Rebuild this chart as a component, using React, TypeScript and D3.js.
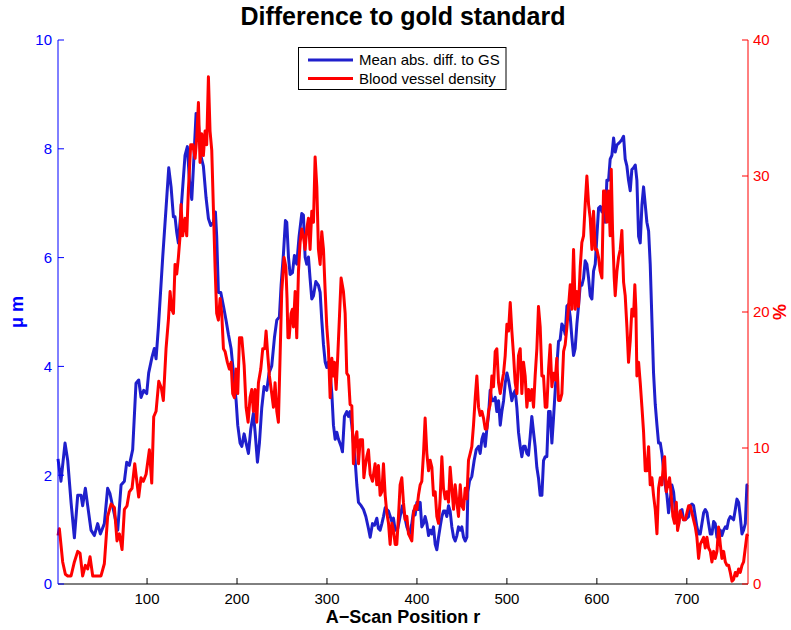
import React from "react";
import * as d3 from "d3";

// A-scan position / value pairs for the two traces
const meanAbsDiff: [number, number][] = [
  [1, 2.3], [4.3, 1.89], [8.8, 2.59], [11.8, 2.27], [15.5, 1.5], [19.2, 0.85], [22.9, 1.63], [26.6, 1.63],
  [28.4, 1.44], [31.4, 1.76], [34, 1.44], [37.7, 0.99], [41.4, 0.89], [45.1, 1.11], [48.1, 0.92], [52.5, 1.11],
  [56.2, 1.76], [58.8, 1.66], [62.5, 1.37], [67.4, 0.99], [71.1, 1.82], [74.8, 1.89], [77.4, 2.24], [80.3, 2.18],
  [84, 2.47], [87.7, 3.69], [90.7, 3.75], [93.3, 3.43], [96.3, 3.56], [99.6, 3.5], [101.8, 3.88], [105.5, 4.17],
  [108.1, 4.33], [110, 4.14], [112.6, 4.72], [117.4, 6.01], [121.1, 6.91], [124.1, 7.65], [126.7, 7.3], [129.3, 6.75],
  [131.1, 6.75], [133, 6.46], [134.8, 6.27], [138.5, 7.04], [142.2, 7.88], [144.8, 8.04], [147.1, 7.42], [149.7, 7.07],
  [152.2, 7.88], [154.5, 8.65], [157.1, 8.46], [159.7, 7.88], [162.6, 7.68], [165.6, 7.1], [168.2, 6.72], [170.8, 6.59],
  [173.7, 6.65], [176, 6.84], [177.4, 6.39], [179.3, 5.36], [181.9, 5.36], [184.9, 5.11], [187.8, 4.85], [190.4, 4.59],
  [193.4, 4.33], [196, 3.88], [199, 3.37], [200.8, 2.92], [203.4, 2.59], [205.3, 2.53], [207.9, 2.76], [210.1, 2.59],
  [212.7, 2.4], [215.3, 2.85], [218.2, 3.14], [220.1, 2.79], [222.7, 2.24], [224.9, 2.59], [227.5, 3.24], [230.1, 3.63],
  [233.1, 3.56], [235.6, 3.88], [238.6, 4.01], [241.6, 4.53], [244.2, 4.85], [247.1, 4.91], [249, 5.49], [251.6, 6.07],
  [253.8, 6.68], [255.3, 6.65], [257.2, 6.01], [259, 5.69], [261.6, 5.72], [263.8, 6.04], [266.4, 5.88], [269, 6.39],
  [272, 6.81], [273.8, 6.78], [275.7, 6.01], [277.5, 5.88], [279.4, 6.01], [281.2, 5.62], [283.1, 5.24], [285, 5.3],
  [287.6, 5.56], [290.5, 5.49], [292.4, 5.36], [294.2, 4.85], [296.1, 4.4], [298, 4.08], [299.8, 3.98], [301.6, 4.08],
  [303.5, 3.88], [305.4, 3.5], [307.2, 2.92], [309.1, 2.66], [310.9, 2.79], [312.8, 2.66], [315.7, 2.53], [317.2, 2.43],
  [319.4, 3.08], [322, 3.17], [323.9, 3.08], [325.7, 3.17], [327.6, 2.92], [329.4, 2.59], [331.3, 2.27], [333.2, 1.82],
  [335, 1.5], [338, 1.44], [340.6, 1.37], [343.2, 1.24], [346.1, 1.02], [348, 0.86], [350.6, 1.11], [352.8, 1.08],
  [355.4, 1.21], [357.2, 1.02], [359.1, 0.99], [361, 1.11], [362.8, 1.24], [364.7, 1.4], [368.4, 1.34], [372.1, 1.15],
  [373.9, 1.21], [375.8, 0.99], [378.7, 1.02], [381.3, 1.24], [383.9, 1.44], [386.9, 1.2], [388.8, 1.05], [391.7, 0.92],
  [394.3, 1.11], [396.2, 1.34], [398, 1.27], [399.9, 1.5], [401.7, 1.37], [403.6, 1.5], [405.4, 1.05], [407.3, 1.11],
  [409.1, 1.24], [411, 1.11], [412.9, 0.89], [414.7, 0.99], [416.6, 0.92], [418.4, 1.05], [420.3, 0.73], [422.1, 0.63],
  [424, 0.86], [425.8, 1.05], [427.7, 1.24], [429.5, 1.34], [431.4, 1.34], [433.2, 1.24], [435.1, 1.44], [436.9, 1.34],
  [438.8, 1.05], [440.7, 0.86], [442.5, 0.79], [444.4, 0.89], [446.2, 1.05], [448.1, 0.99], [449.9, 1.05], [451.8, 0.86],
  [453.6, 0.79], [455.5, 0.86], [456.6, 1.69], [458.4, 1.89], [461, 1.98], [463.6, 2.27], [465.9, 2.47], [468.5, 2.53],
  [470.3, 2.4], [472.2, 2.66], [474, 2.76], [475.9, 2.53], [477.7, 2.85], [479.6, 3.11], [481.4, 3.56], [483.3, 3.37],
  [485.1, 3.37], [487, 3.43], [488.8, 3.17], [490.7, 3.37], [492.6, 2.92], [494.4, 3.17], [496.3, 3.37], [498.1, 3.69],
  [500, 3.88], [501.8, 3.75], [503.7, 3.56], [505.5, 3.37], [507.4, 3.5], [509.2, 3.56], [511.1, 3.24], [512.9, 2.79],
  [514.8, 2.53], [516.6, 2.34], [518.5, 2.53], [520.3, 2.53], [522.2, 2.4], [524, 2.37], [525.9, 2.72], [527.7, 3.08],
  [529.6, 2.79], [531.4, 2.53], [533.3, 2.14], [535.1, 1.95], [537, 1.63], [538.9, 1.63], [540.7, 2.27], [542.6, 2.34],
  [544.4, 2.34], [546.3, 3.17], [548.1, 3.17], [550, 2.59], [551.8, 3.05], [553.7, 3.56], [555.5, 4.01], [557.4, 4.46],
  [559.2, 4.49], [561.1, 4.78], [563, 4.72], [564.8, 4.59], [566.7, 5.11], [568.5, 5.14], [570.4, 4.91], [572.2, 4.53],
  [574.1, 4.2], [575.9, 4.33], [577.8, 4.78], [579.6, 5.11], [581.5, 5.49], [583.3, 5.49], [585.2, 5.62], [587, 5.94],
  [588.9, 5.88], [590.8, 5.62], [592.6, 5.3], [594.5, 5.24], [596.3, 5.75], [598.2, 5.88], [600, 6.39], [601.9, 6.91],
  [603.7, 6.94], [605.6, 6.84], [607.4, 6.97], [609.3, 6.65], [611.1, 7.42], [613, 7.42], [614.8, 7.81], [616.7, 7.88],
  [618.6, 8.2], [620.4, 7.94], [622.3, 8.07], [624.1, 8.1], [626, 8.13], [627.8, 8.17], [629.7, 8.23], [631.5, 7.81],
  [633.4, 7.68], [635.2, 7.42], [637.1, 7.23], [638.9, 7.62], [640.8, 7.65], [642.7, 7.7], [644.5, 7.42], [646.4, 6.39],
  [648.2, 6.27], [650.1, 6.97], [651.9, 7.3], [653.8, 6.97], [655.6, 6.65], [657.5, 6.49], [659.3, 5.88], [661.2, 4.85],
  [663, 3.88], [664.9, 3.3], [666.8, 2.92], [668.6, 2.59], [670.5, 2.59], [672.3, 2.4], [674.2, 2.08], [676, 1.82],
  [677.9, 1.63], [679.7, 1.31], [681.6, 1.56], [683.4, 1.82], [685.3, 1.69], [687.1, 1.37], [689, 1.18], [690.9, 1.11],
  [692.7, 1.34], [694.6, 1.37], [696.4, 1.18], [698.3, 1.18], [700.1, 1.21], [702, 1.24], [703.8, 1.44], [705.7, 1.47],
  [707.5, 1.44], [709.4, 1.24], [711.2, 1.05], [713.1, 0.92], [714.9, 0.92], [716.8, 1.11], [718.7, 1.31], [720.5, 1.37],
  [722.4, 1.31], [724.2, 1.11], [726.1, 0.92], [727.9, 0.92], [729.8, 1.15], [731.6, 1.11], [733.5, 0.86], [735.3, 0.92],
  [737.2, 0.99], [739, 0.89], [740.9, 0.99], [742.8, 1.05], [744.6, 1.02], [746.5, 1.18], [748.3, 1.24], [750.2, 1.21],
  [752, 1.18], [753.9, 1.37], [755.7, 1.56], [757.6, 1.5], [759.4, 1.24], [761.3, 0.92], [763.1, 0.99], [765, 1.11],
  [766.8, 1.82], [768, 1.82],
];

const vesselDensity: [number, number][] = [
  [1, 3.56], [2.5, 4.07], [6.2, 1.62], [9.2, 0.72], [11.8, 0.59], [15.5, 0.59], [19.2, 1.62], [22.9, 2.4],
  [25.5, 2.27], [28.4, 0.59], [31.4, 1.37], [34, 1.11], [36.6, 2.01], [39.6, 0.59], [43.3, 0.59], [48.8, 0.59],
  [52.5, 1.49], [56.2, 4.97], [60, 5.88], [63.7, 5.62], [66.6, 3.17], [69.2, 3.69], [72.2, 2.53], [74.8, 5.49],
  [77.7, 5.75], [80.3, 6.78], [83.3, 7.04], [86.3, 8.84], [90.7, 6.39], [93.3, 7.81], [95.9, 7.55], [98.9, 8.07],
  [102.6, 9.87], [105.2, 7.42], [107.4, 12.3], [110, 12.7], [113, 14.9], [115.9, 14.4], [118.1, 13.5], [121.1, 17.3],
  [123.7, 19.4], [125.6, 21.5], [127.4, 20.2], [129.3, 19.9], [131.1, 23.5], [133, 22.8], [134.8, 24], [136.7, 25.6],
  [137.8, 27.9], [139.6, 25.6], [142.2, 26.9], [144.1, 25.6], [145.9, 28.9], [148.5, 32.3], [150.8, 32.3], [153.4, 31.3],
  [155.2, 32.8], [157.1, 35.4], [158.9, 31], [160.8, 33.1], [162.6, 31.5], [164.5, 33.3], [166.3, 32.3], [168.2, 37.3],
  [170, 33.3], [171.9, 31.9], [173.7, 27.7], [175.6, 23.3], [177.4, 19.9], [179.3, 19.4], [181.2, 21], [183, 19.9],
  [184.9, 17.3], [186.7, 17.1], [189.3, 16.3], [191.5, 15.8], [193.4, 16.3], [195.2, 14], [197.1, 13.7], [198.9, 15.8],
  [200.8, 14], [202.7, 18.1], [205.3, 18.1], [207.9, 16.1], [210.1, 13], [212.3, 11.9], [214.5, 13.7], [216.4, 14.3],
  [218.2, 12.7], [220.1, 14.3], [221.9, 11.9], [223.8, 14.8], [226.4, 15.8], [228.6, 17.3], [230.8, 17.3], [232.3, 18.6],
  [234.2, 16.8], [236, 15.3], [238.6, 14], [240.5, 13], [242.3, 14.8], [244.2, 12.7], [246, 11.9], [247.9, 16.8],
  [249.7, 21.5], [252.3, 24], [254.3, 23.3], [255.6, 21], [256.6, 18.1], [257.9, 18.1], [260.1, 19.9], [261.6, 20.2],
  [262.7, 18.9], [264.6, 21.5], [266.4, 18.1], [268.3, 23], [270.1, 25.1], [272, 26.1], [273.8, 25.6], [275.7, 24.6],
  [277.5, 26.1], [279.4, 26.9], [281.2, 24.6], [283.1, 27.4], [285, 26.6], [286.8, 31.4], [288.7, 29.2], [290.5, 24.6],
  [292.4, 23.5], [294.2, 25.9], [296.1, 24.6], [298, 21.5], [299.8, 18.9], [301.6, 17.3], [303.5, 13.7], [305.4, 16.6],
  [307.2, 15.3], [308.3, 16.3], [310.2, 14.3], [312, 16.8], [313.9, 19.7], [315.7, 22.5], [318.3, 21.5], [320.2, 19.9],
  [322, 15.5], [323.9, 15.3], [325.7, 13.2], [327.6, 13.1], [329.4, 8.84], [331.3, 10.6], [333.2, 11.2], [335, 8.84],
  [336.9, 10.6], [339.5, 10.6], [341, 7.81], [342.4, 8.58], [344.3, 9.36], [346.1, 9.87], [348, 8.07], [350.6, 7.55],
  [353.5, 8.84], [355.4, 7.29], [357.2, 8.71], [359.1, 6.52], [361, 6.78], [362.8, 8.84], [364.7, 6.52], [366.5, 5.23],
  [368.4, 4.46], [370.2, 2.91], [372.1, 4.46], [374, 3.94], [375.8, 2.91], [377.6, 2.91], [379.5, 4.97], [381.3, 7.29],
  [383.2, 7.81], [385, 6], [386.9, 4.72], [388.8, 4.97], [390.6, 3.69], [392.5, 3.43], [394.3, 3.17], [396.2, 5.23],
  [398, 5.75], [399.9, 5.49], [401.7, 6.52], [403.6, 7.29], [405.4, 7.55], [407.3, 9.61], [409.1, 12.2], [411, 9.61],
  [412.9, 8.32], [414.7, 9.1], [416.6, 8.58], [418.4, 6.52], [420.3, 6.78], [422.1, 4.97], [424, 4.46], [425.8, 6.26],
  [427.7, 9.36], [429.5, 7.04], [431.4, 6.26], [433.2, 6.78], [435.1, 6.01], [436.9, 8.58], [438.8, 7.04], [440.7, 5.49],
  [442.5, 7.29], [444.4, 6.01], [446.2, 4.97], [448.1, 7.29], [449.9, 5.75], [451.8, 5.49], [453.6, 7.04], [455.5, 6.26],
  [457.3, 9.1], [459.2, 9.61], [461, 10.1], [462.9, 11.7], [464.8, 13.7], [466.6, 15.3], [468.5, 13], [470.3, 12.4],
  [472.2, 12.7], [474, 12.2], [475.9, 11.4], [477.7, 11.4], [479.6, 12.7], [481.4, 13.2], [483.3, 15.3], [485.1, 14.5],
  [487, 17.1], [488.8, 17.3], [490.7, 14.8], [492.6, 14], [494.4, 14.8], [496.3, 15.5], [498.1, 16.8], [500, 19.1],
  [501.8, 18.6], [503.7, 20.7], [505.5, 18.6], [507.4, 16.8], [509.2, 14.8], [511.1, 14], [512.9, 16.8], [514.8, 17.3],
  [516.6, 14], [518.5, 16.3], [520.3, 15.3], [522.2, 13], [524, 14.3], [525.9, 13.5], [527.7, 14.3], [529.6, 13],
  [531.4, 15.3], [533.3, 17.3], [535.1, 20.4], [537, 18.9], [538.9, 15.3], [540.7, 15.3], [542.6, 13], [544.4, 13],
  [546.3, 15.8], [548.1, 17.6], [550, 14.5], [551.8, 15.5], [553.7, 15], [555.5, 16.6], [557.4, 13.5], [559.2, 13.5],
  [561.1, 14], [563, 17.1], [564.8, 17.6], [566.7, 18.9], [568.5, 20.4], [570.4, 22], [572.2, 20.2], [574.1, 24.6],
  [575.9, 20.2], [577.8, 21.5], [579.6, 20.4], [581.5, 23.3], [583.3, 25.1], [585.2, 25.6], [587, 27.9], [588.9, 30],
  [590.8, 27.9], [592.6, 26.9], [594.5, 24.6], [596.3, 27.4], [598.2, 24.6], [600, 24.6], [601.9, 24], [603.7, 23],
  [605.6, 22.5], [607.4, 28.9], [609.3, 28.9], [611.1, 26.6], [613, 28.9], [614.8, 25.6], [616, 30.5], [617.4, 26.1],
  [619.3, 22.5], [620.4, 21.2], [622.3, 23], [624.1, 24], [626, 24.6], [627.8, 26], [629.7, 22.2], [631.5, 21.2],
  [633.4, 18.9], [635.2, 16.3], [637.1, 17.9], [638.9, 20.2], [640.8, 19.7], [642.2, 22], [643.4, 20.2], [644.5, 15.3],
  [646.4, 16.3], [648.2, 14.8], [650.1, 13], [651.9, 11.2], [653.8, 8.32], [655.6, 8.32], [657.5, 10.1], [659.3, 7.29],
  [661.2, 7.81], [663, 6.52], [664.9, 5.49], [666.8, 3.69], [668.6, 7.04], [670.5, 7.81], [672.3, 7.29], [674.2, 9.1],
  [675.3, 9.36], [677.1, 6.78], [679, 7.29], [680.8, 7.81], [682.7, 6.52], [684.5, 4.97], [686.4, 4.46], [688.3, 6.01],
  [689.7, 3.94], [691.2, 4.46], [692.7, 5.36], [694.6, 4.97], [696.4, 4.72], [698.3, 4.72], [700.1, 5.23], [702, 5.75],
  [703.8, 5.75], [705.7, 5.23], [707.5, 4.72], [709.4, 4.2], [711.2, 3.43], [713.1, 1.88], [714.9, 2.91], [716.8, 3.17],
  [718.7, 3.43], [720.5, 2.65], [722.4, 3.43], [724.2, 2.65], [726.1, 2.4], [727.9, 1.62], [729.8, 2.4], [731.6, 1.88],
  [733.5, 2.4], [735.3, 4.2], [737.2, 2.91], [739, 1.88], [740.9, 2.4], [742.8, 1.62], [744.6, 1.37], [746.5, 1.37],
  [748.3, 0.85], [750.2, 0.21], [752, 0.34], [753.9, 0.85], [755.7, 0.59], [757.6, 1.11], [759.4, 0.85], [761.3, 1.37],
  [763.1, 1.62], [765, 2.65], [766.8, 3.6], [768, 3.5],
];

const xTicks = [100, 200, 300, 400, 500, 600, 700];
const leftTicks = [0, 2, 4, 6, 8, 10];
const rightTicks = [0, 10, 20, 30, 40];
const legendLabels = ["Mean abs. diff. to GS", "Blood vessel density"];
const titleText = "Difference to gold standard";
const xLabelText = "A\u2212Scan Position r";
const leftLabelText = "\u03bc m";
const rightLabelText = "%";

const WIDTH = 791;
const HEIGHT = 630;
const PLOT = { left: 58, right: 748, top: 40, bottom: 584 };
const FONT = "'Liberation Sans', Arial, Helvetica, sans-serif";
const BLUE = "#1f1fcc";
const RED = "#ff0000";
const AXIS_BLUE = "#0000ff";

export default function App() {
  const x = d3.scaleLinear().domain([1, 768]).range([PLOT.left, PLOT.right]);
  const yLeft = d3.scaleLinear().domain([0, 10]).range([PLOT.bottom, PLOT.top]);
  const yRight = d3.scaleLinear().domain([0, 40]).range([PLOT.bottom, PLOT.top]);

  const blueLine = d3
    .line<[number, number]>()
    .x((d) => x(d[0]))
    .y((d) => yLeft(d[1]));
  const redLine = d3
    .line<[number, number]>()
    .x((d) => x(d[0]))
    .y((d) => yRight(d[1]));

  const tickLen = 6;
  const legend = { x: 298.5, y: 47.5, w: 207.5, h: 42 };

  return (
    <svg
      width={WIDTH}
      height={HEIGHT}
      viewBox={`0 0 ${WIDTH} ${HEIGHT}`}
      style={{ position: "absolute", left: 0, top: 0, background: "#fff", display: "block" }}
      fontFamily={FONT}
    >
      <rect x={0} y={0} width={WIDTH} height={HEIGHT} fill="#fff" />

      {/* traces */}
      <path d={blueLine(meanAbsDiff) || ""} fill="none" stroke={BLUE} strokeWidth={3} strokeLinejoin="round" />
      <path d={redLine(vesselDensity) || ""} fill="none" stroke={RED} strokeWidth={3} strokeLinejoin="round" />

      {/* bottom axis */}
      <line x1={PLOT.left} x2={PLOT.right} y1={PLOT.bottom} y2={PLOT.bottom} stroke="#000" strokeWidth={1} />
      {xTicks.map((t) => (
        <g key={`xt${t}`}>
          <line x1={x(t)} x2={x(t)} y1={PLOT.bottom} y2={PLOT.bottom - tickLen} stroke="#000" strokeWidth={1} />
          <text x={x(t)} y={PLOT.bottom + 20} textAnchor="middle" fontSize={15} fill="#000">
            {t}
          </text>
        </g>
      ))}

      {/* left axis */}
      <line x1={PLOT.left} x2={PLOT.left} y1={PLOT.top} y2={PLOT.bottom} stroke={AXIS_BLUE} strokeWidth={1} />
      {leftTicks.map((t) => (
        <g key={`yl${t}`}>
          <line x1={PLOT.left} x2={PLOT.left + tickLen} y1={yLeft(t)} y2={yLeft(t)} stroke={AXIS_BLUE} strokeWidth={1} />
          <text x={PLOT.left - 6} y={yLeft(t)} dy="0.36em" textAnchor="end" fontSize={15} fill={AXIS_BLUE}>
            {t}
          </text>
        </g>
      ))}

      {/* right axis */}
      <line x1={PLOT.right} x2={PLOT.right} y1={PLOT.top} y2={PLOT.bottom} stroke={RED} strokeWidth={1} />
      {rightTicks.map((t) => (
        <g key={`yr${t}`}>
          <line x1={PLOT.right} x2={PLOT.right - tickLen} y1={yRight(t)} y2={yRight(t)} stroke={RED} strokeWidth={1} />
          <text x={PLOT.right + 5} y={yRight(t)} dy="0.36em" textAnchor="start" fontSize={15} fill={RED}>
            {t}
          </text>
        </g>
      ))}

      {/* titles */}
      <text x={(PLOT.left + PLOT.right) / 2} y={25} textAnchor="middle" fontSize={25} fontWeight="bold" fill="#000">
        {titleText}
      </text>
      <text x={(PLOT.left + PLOT.right) / 2} y={623} textAnchor="middle" fontSize={18} fontWeight="bold" fill="#000">
        {xLabelText}
      </text>
      <text
        transform={`translate(23, ${(PLOT.top + PLOT.bottom) / 2}) rotate(-90)`}
        textAnchor="middle"
        fontSize={18}
        fontWeight="bold"
        fill={AXIS_BLUE}
      >
        {leftLabelText}
      </text>
      <text
        transform={`translate(786, ${(PLOT.top + PLOT.bottom) / 2}) rotate(-90)`}
        textAnchor="middle"
        fontSize={18}
        fontWeight="bold"
        fill={RED}
      >
        {rightLabelText}
      </text>

      {/* legend */}
      <rect x={legend.x} y={legend.y} width={legend.w} height={legend.h} fill="#fff" stroke="#000" strokeWidth={1} />
      {legendLabels.map((label, i) => {
        const cy = 60 + i * 18.5;
        return (
          <g key={label}>
            <line x1={308} x2={353} y1={cy} y2={cy} stroke={i === 0 ? BLUE : RED} strokeWidth={3} />
            <text x={359} y={cy} dy="0.36em" fontSize={15} fill="#000">
              {label}
            </text>
          </g>
        );
      })}
    </svg>
  );
}
